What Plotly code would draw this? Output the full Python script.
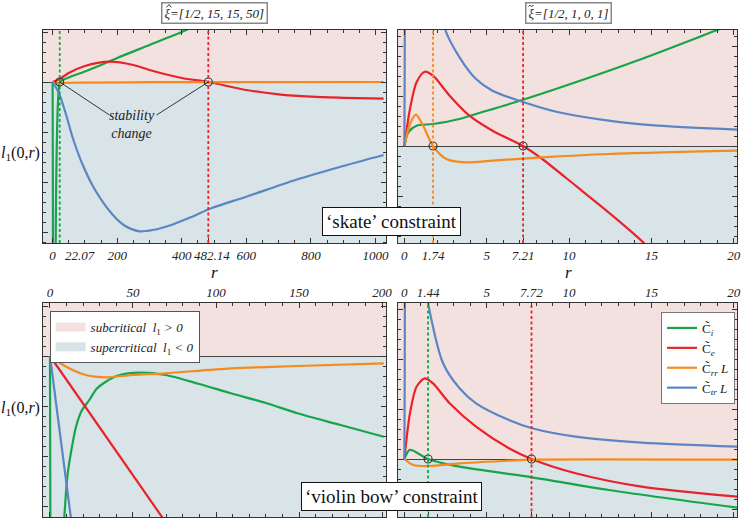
import plotly.graph_objects as go

# ---------------- data (l1 in arbitrary units) ----------------
# Panel A: hat-xi = [1/2, 15, 15, 50], 'skate'
A_green1_r = [0, 0.8, 1.6]
A_green1_y = [0, -100, -300]
A_green2_r = [8, 10, 12, 16, 19, 22.07, 30, 50, 100, 150, 200, 300, 400, 420]
A_green2_y = [-250, -140, -80, -25, -8, 0, 1.8, 4.5, 10.5, 17, 24, 37, 50, 53]
A_red_r = [0, 22.07, 50, 100, 175, 250, 300, 400, 482.14, 600, 700, 800, 900, 1025]
A_red_y = [0, 3, 9, 16, 20.3, 17, 12, 4, 0, -8, -12.3, -14.7, -15.8, -16.7]
A_orange_r = [0, 10, 30, 100, 300, 1025]
A_orange_y = [0, -1.2, -1, -0.6, -0.2, 0]
A_blue_r = [0, 8, 21.5, 42, 62.5, 93, 134, 186, 225, 268, 310, 370, 430, 493, 600, 752, 900, 1025]
A_blue_y = [0, -4, -12.7, -33, -56, -82.7, -109.3, -132.7, -144, -149.3, -148, -142.7, -135, -126, -114.7, -98, -84, -73]
A_cross = [22.07, 482.14]

# Panel B: tilde-xi = [1/2, 1, 0, 1], 'skate'
B_blue1_r = [0, 0.02, 0.05]
B_blue1_y = [0, 80, 300]
B_blue2_r = [2.2, 2.49, 3.35, 4.35, 5.35, 7.16, 9.37, 12.4, 15.4, 20.2]
B_blue2_y = [150, 116, 88.7, 67, 55.3, 44.3, 33.7, 25.3, 20.3, 16.3]
B_red_r = [0, 0.34, 0.74, 1.24, 1.74, 2.75, 3.95, 5.35, 7.21, 8.37, 10.4, 12.4, 14.5, 15]
B_red_y = [0, 37, 63.7, 74.3, 70.3, 50.3, 30.3, 15.3, 0, -13, -39.7, -66.3, -96.3, -106]
B_orange_r = [0, 0.34, 0.7, 1.14, 1.74, 2.55, 3.75, 5.35, 8.37, 12.4, 20.2]
B_orange_y = [0, 22, 31.3, 20.3, 0, -13, -16.3, -14.7, -11.3, -8, -4.7]
B_green_r = [0, 0.24, 0.74, 1.74, 3.35, 4.35, 7.16, 10.4, 14.4, 19.0, 19.5]
B_green_y = [0, 13.7, 20.3, 22, 27, 32, 46, 63.7, 87, 116, 119]
B_cross = [1.74, 7.21]

# Panel C: hat-xi, 'violin bow'
C_green1_r = [0, 0.3, 0.6]
C_green1_y = [0, -200, -400]
C_green2_r = [7, 8.8, 10.5, 12.8, 15.7, 19, 23.7, 28, 33.6, 42, 53.5, 69.5, 90, 109, 130, 149, 175, 201]
C_green2_y = [-200, -157, -120, -95, -70.7, -55, -44, -33, -25.7, -19, -16.7, -19, -28, -37.3, -47, -57.3, -69, -80.7]
C_orange_r = [0, 9.8, 21.7, 33.6, 49.6, 69.5, 109, 149, 201]
C_orange_y = [0, -10.7, -19, -21.3, -19, -17.3, -12.3, -10, -7.3]
C_red_r = [0, 70]
C_red_y = [0, -167]
C_blue_r = [0, 13]
C_blue_y = [0, -167]

# Panel D: tilde-xi, 'violin bow'
D_blue1_r = [0, 0.02, 0.05]
D_blue1_y = [0, 80, 300]
D_blue2_r = [1.3, 1.44, 2.35, 3.35, 4.35, 6.35, 7.76, 10.4, 14.4, 20.2]
D_blue2_y = [175, 156, 95.7, 70.7, 55.7, 39, 30.7, 22.3, 16.3, 12.3]
D_red_r = [0, 0.34, 0.74, 1.24, 1.74, 2.75, 4.35, 6.35, 7.72, 10.4, 14.4, 20.2]
D_red_y = [0, 45.7, 72.3, 80.7, 75.7, 55.7, 32.3, 10.7, 0, -14.3, -27.7, -37.7]
D_green_r = [0, 0.3, 0.54, 1.44, 3.35, 7.76, 12.4, 20.2]
D_green_y = [0, 9, 8.3, 0, -7.7, -18.3, -31, -48.7]
D_orange_r = [0, 0.54, 1.54, 3.35, 6.35, 7.72, 20.2]
D_orange_y = [0, -6, -7, -4.3, -1.7, -0.7, -0.7]
D_cross = [1.44, 7.72]

A_ticks = [0, 200, 400, 482.14, 600, 800, 1000]
A_ticktext = ["0", "200", "400", "", "600", "800", "1000"]
B_ticks = [0, 1.74, 5, 7.21, 10, 15, 20]
B_ticktext = ["0", "1.74", "5", "7.21", "10", "15", "20"]
C_ticks = [0, 50, 100, 150, 200]
C_ticktext = ["0", "50", "100", "150", "200"]
D_ticks = [0, 1.44, 5, 7.72, 10, 15, 20]
D_ticktext = ["0", "1.44", "5", "7.72", "10", "15", "20"]

series_names = ["C\u0303<sub><i>i</i></sub>", "C\u0303<sub><i>e</i></sub>",
                "C\u0303<sub><i>rr</i></sub> <i>L</i>", "C\u0303<sub><i>tr</i></sub> <i>L</i>"]
region_names = ["<i>subcritical  l</i><sub>1</sub><i> > 0</i>",
                "<i>supercritical  l</i><sub>1</sub><i> < 0</i>"]

# ---------------- style ----------------
GREEN = "#17a44b"
RED = "#e8232a"
ORANGE = "#f58b1f"
BLUE = "#5b86c3"
PINK_BG = "#f3e1e0"
BLUE_BG = "#d8e4e7"
FONT = "Liberation Serif"
W, H = 747, 519


def PX(x):
    return x / W


def PY(y):
    return 1 - y / H


def join(*branches):
    xs, ys = [], []
    for i, (bx, by) in enumerate(branches):
        if i:
            xs.append(None)
            ys.append(None)
        xs += list(bx)
        ys += list(by)
    return xs, ys


fig = go.Figure()

panels = {
    "A": dict(ax="", xr=[-30.8, 1032], yr=[-161, 52]),
    "B": dict(ax="2", xr=[-0.40, 20.2], yr=[-97, 116]),
    "C": dict(ax="3", xr=[-4.4, 202.3], yr=[-161, 53]),
    "D": dict(ax="4", xr=[-0.40, 20.2], yr=[-58, 156]),
}

curves = {
    "A": [(GREEN, join((A_green1_r, A_green1_y), (A_green2_r, A_green2_y))),
          (RED, join((A_red_r, A_red_y))),
          (ORANGE, join((A_orange_r, A_orange_y))),
          (BLUE, join((A_blue_r, A_blue_y)))],
    "B": [(GREEN, join((B_green_r, B_green_y))),
          (RED, join((B_red_r, B_red_y))),
          (ORANGE, join((B_orange_r, B_orange_y))),
          (BLUE, join((B_blue1_r, B_blue1_y), (B_blue2_r, B_blue2_y)))],
    "C": [(GREEN, join((C_green1_r, C_green1_y), (C_green2_r, C_green2_y))),
          (RED, join((C_red_r, C_red_y))),
          (ORANGE, join((C_orange_r, C_orange_y))),
          (BLUE, join((C_blue_r, C_blue_y)))],
    "D": [(GREEN, join((D_green_r, D_green_y))),
          (RED, join((D_red_r, D_red_y))),
          (ORANGE, join((D_orange_r, D_orange_y))),
          (BLUE, join((D_blue1_r, D_blue1_y), (D_blue2_r, D_blue2_y)))],
}

crosses = {"A": (A_cross, [GREEN, RED]), "B": (B_cross, [ORANGE, RED]),
           "C": ([], []), "D": (D_cross, [GREEN, RED])}

for key, p in panels.items():
    ax = p["ax"]
    xa, ya = "x" + ax, "y" + ax
    for i, (col, (xs, ys)) in enumerate(curves[key]):
        fig.add_trace(go.Scatter(
            x=xs, y=ys, mode="lines", xaxis=xa, yaxis=ya,
            line=dict(color=col, width=2.2, shape="spline", smoothing=0.8),
            name=series_names[i], showlegend=(key == "D"), legend="legend",
            connectgaps=False, hoverinfo="skip"))
    # background regions
    fig.add_shape(type="rect", xref=xa + " domain", yref=ya, x0=0, x1=1,
                  y0=0, y1=p["yr"][1], fillcolor=PINK_BG, line_width=0, layer="below")
    fig.add_shape(type="rect", xref=xa + " domain", yref=ya, x0=0, x1=1,
                  y0=p["yr"][0], y1=0, fillcolor=BLUE_BG, line_width=0, layer="below")
    cx, ccols = crosses[key]
    for xv, col in zip(cx, ccols):
        fig.add_shape(type="line", xref=xa, yref=ya + " domain", x0=xv, x1=xv, y0=0, y1=1,
                      line=dict(color=col, width=1.8, dash="3px,2.5px"), layer="above")
    if cx:
        fig.add_trace(go.Scatter(
            x=cx, y=[0] * len(cx), mode="markers", xaxis=xa, yaxis=ya,
            marker=dict(symbol="circle-open", size=8, color="#333", line=dict(width=1.1)),
            showlegend=False, hoverinfo="skip"))

# region legend entries (bottom-left)
for name, col in zip(region_names, [PINK_BG, BLUE_BG]):
    fig.add_trace(go.Scatter(x=[None], y=[None], mode="lines", xaxis="x3", yaxis="y3",
                             line=dict(color=col, width=9), name=name, legend="legend2"))

# stability change leader lines
fig.add_shape(type="line", xref="x", yref="y", x0=176, y0=-33, x1=A_cross[0], y1=0,
              line=dict(color="#222", width=0.9))
fig.add_shape(type="line", xref="x", yref="y", x0=322, y0=-33, x1=A_cross[1], y1=0,
              line=dict(color="#222", width=0.9))


def ppath(points, cmd):
    parts = []
    for c, (x, y) in zip(cmd, points):
        parts.append(f"{c}{PX(x):.5f},{PY(y):.5f}")
    return " ".join(parts)


# accents over the xi in the panel titles (hat and tilde)
fig.add_shape(type="path", xref="paper", yref="paper", layer="above",
              path=ppath([(167.8, 7.4), (170.3, 4.6), (172.8, 7.4)], ["M", "L", "L"]),
              line=dict(color="#222", width=0.9))
fig.add_shape(type="path", xref="paper", yref="paper", layer="above",
              path="M{:.5f},{:.5f} C{:.5f},{:.5f} {:.5f},{:.5f} {:.5f},{:.5f}".format(
                  PX(532.6), PY(6.6), PX(534.4), PY(3.6), PX(535.8), PY(8.2), PX(537.8), PY(5.0)),
              line=dict(color="#222", width=0.9))

dom_x_left = [PX(43), PX(389)]
dom_x_right = [PX(401), PX(743)]
dom_y_top = [PY(243), PY(30)]
dom_y_bot = [PY(517), PY(303)]

tickfont = dict(family=FONT, size=13, color="#222", style="italic")


def xaxis(dom, rng, tv, tt, side, minor_dt, anchor):
    return dict(domain=dom, range=rng, tickvals=tv, ticktext=tt, side=side,
                anchor=anchor, ticks="inside", ticklen=5, tickcolor="#333",
                mirror="allticks", showline=True, linecolor="#333", linewidth=1,
                showgrid=False, zeroline=False, tickfont=tickfont, tickangle=0,
                minor=dict(dtick=minor_dt, tick0=0, ticks="inside", ticklen=3, tickcolor="#333"),
                fixedrange=True)


def yaxis(dom, rng, anchor):
    return dict(domain=dom, range=rng, anchor=anchor, ticks="inside", ticklen=5,
                tickcolor="#333", dtick=50, tick0=0, showticklabels=False,
                mirror="allticks", showline=True, linecolor="#333", linewidth=1,
                showgrid=False, zeroline=True, zerolinecolor="#444", zerolinewidth=1,
                minor=dict(dtick=10, tick0=0, ticks="inside", ticklen=3, tickcolor="#333"),
                fixedrange=True)


fig.update_layout(
    width=W, height=H, margin=dict(l=0, r=0, t=0, b=0),
    paper_bgcolor="white", plot_bgcolor="white",
    font=dict(family=FONT, size=13, color="#222"),
    xaxis=xaxis(dom_x_left, panels["A"]["xr"], A_ticks, A_ticktext, "bottom", 50, "y"),
    yaxis=yaxis(dom_y_top, panels["A"]["yr"], "x"),
    xaxis2=xaxis(dom_x_right, panels["B"]["xr"], B_ticks, B_ticktext, "bottom", 1, "y2"),
    yaxis2=yaxis(dom_y_top, panels["B"]["yr"], "x2"),
    xaxis3=xaxis(dom_x_left, panels["C"]["xr"], C_ticks, C_ticktext, "top", 10, "y3"),
    yaxis3=yaxis(dom_y_bot, panels["C"]["yr"], "x3"),
    xaxis4=xaxis(dom_x_right, panels["D"]["xr"], D_ticks, D_ticktext, "top", 1, "y4"),
    yaxis4=yaxis(dom_y_bot, panels["D"]["yr"], "x4"),
    legend=dict(x=PX(741), y=PY(312), xanchor="right", yanchor="top",
                bgcolor="white", bordercolor="#777", borderwidth=1,
                font=dict(family=FONT, size=13, color="#222"),
                itemwidth=30, tracegroupgap=0),
    legend2=dict(x=PX(50), y=PY(311), xanchor="left", yanchor="top",
                 bgcolor="white", bordercolor="#555", borderwidth=1,
                 font=dict(family=FONT, size=13, color="#222"),
                 itemwidth=30, tracegroupgap=0),
    showlegend=True,
)

ann = []
# panel titles
title_font = dict(family=FONT, size=13, style="italic", color="#222")
ann.append(dict(text="\u03be=[1/2, 15, 15, 50]", x=PX(216.7), y=PY(13), xref="paper", yref="paper",
                xanchor="center", yanchor="middle", showarrow=False, font=title_font,
                bordercolor="#888", borderwidth=1.5, borderpad=2, bgcolor="rgba(0,0,0,0)"))
ann.append(dict(text="\u03be=[1/2, 1, 0, 1]", x=PX(573.3), y=PY(13), xref="paper", yref="paper",
                xanchor="center", yanchor="middle", showarrow=False, font=title_font,
                bordercolor="#888", borderwidth=1.5, borderpad=2, bgcolor="rgba(0,0,0,0)"))
# constraint boxes
ann.append(dict(text="\u2018skate\u2019 constraint", x=PX(395), y=PY(221.5), xref="paper", yref="paper",
                xanchor="center", yanchor="middle", showarrow=False, font=dict(family=FONT, size=19, color="#111"),
                bordercolor="#111", borderwidth=1, borderpad=3, bgcolor="white"))
ann.append(dict(text="\u2018violin bow\u2019 constraint", x=PX(394.5), y=PY(496), xref="paper", yref="paper",
                xanchor="center", yanchor="middle", showarrow=False, font=dict(family=FONT, size=19, color="#111"),
                bordercolor="#111", borderwidth=1, borderpad=3, bgcolor="white"))
# axis labels
for yy in (153, 408):
    ann.append(dict(text="<i>l</i><sub>1</sub>(0,<i>r</i>)", x=PX(21), y=PY(yy), xref="paper", yref="paper",
                    xanchor="center", yanchor="middle", showarrow=False,
                    font=dict(family=FONT, size=16, color="#111")))
for xx in (216, 573):
    ann.append(dict(text="<i>r</i>", x=PX(xx), y=PY(272), xref="paper", yref="paper",
                    xanchor="center", yanchor="middle", showarrow=False,
                    font=dict(family=FONT, size=17, color="#111")))
# special tick labels
ann.append(dict(text="<i>22.07</i>", x=A_cross[0], xref="x", y=PY(255), yref="paper",
                xanchor="left", yanchor="middle", xshift=3, showarrow=False,
                font=dict(family=FONT, size=13, color="#222")))
ann.append(dict(text="<i>482.14</i>", x=A_cross[1], xref="x", y=PY(255), yref="paper",
                xanchor="center", yanchor="middle", xshift=4, showarrow=False,
                font=dict(family=FONT, size=13, color="#222")))
# stability change
ann.append(dict(text="<i>stability</i><br><i>change</i>", x=245, y=-43, xref="x", yref="y",
                xanchor="center", yanchor="middle", showarrow=False,
                font=dict(family=FONT, size=14, color="#222")))
fig.update_layout(annotations=ann)

fig.write_html("out.html", config={"displayModeBar": False},
               post_script="document.body.style.margin='0';")
